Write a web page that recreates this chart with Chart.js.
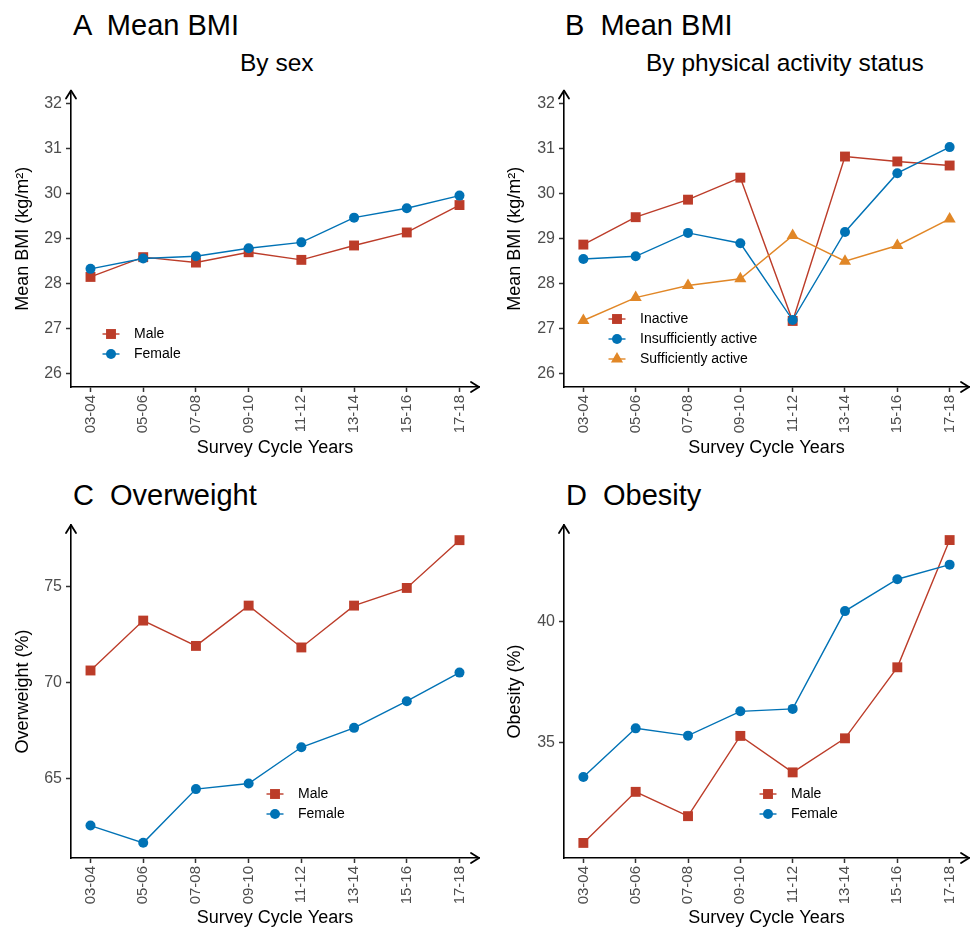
<!DOCTYPE html>
<html>
<head>
<meta charset="utf-8">
<script src="https://cdn.jsdelivr.net/npm/chart.js@4.4.1/dist/chart.umd.min.js"></script>
<style>
  body { margin: 0; width: 971px; height: 928px; overflow: hidden; background: #fff; position: relative;
         font-family: "Liberation Sans", Arial, Helvetica, sans-serif; }
  canvas { position: absolute; }
  .title { position: absolute; font-size: 29px; line-height: 1; white-space: pre; color: #000; }
  .sub { position: absolute; font-size: 24.5px; line-height: 1; white-space: pre; color: #000; }
</style>
</head>
<body>
<div class="title" style="left:73px;top:10.5px">A  Mean BMI</div>
<div class="sub" style="left:240px;top:51.3px">By sex</div>
<div class="title" style="left:565px;top:10.5px">B  Mean BMI</div>
<div class="sub" style="left:646px;top:51.3px">By physical activity status</div>
<div class="title" style="left:73px;top:480.5px">C  Overweight</div>
<div class="title" style="left:566px;top:480.5px">D  Obesity</div>

<canvas id="chartA" width="486" height="464" style="left:0;top:0"></canvas>
<canvas id="chartB" width="490" height="464" style="left:486px;top:0"></canvas>
<canvas id="chartC" width="486" height="470" style="left:0;top:464px"></canvas>
<canvas id="chartD" width="490" height="470" style="left:486px;top:464px"></canvas>

<script>
const cycles = ['03-04', '05-06', '07-08', '09-10', '11-12', '13-14', '15-16', '17-18'];

const bmiMale = [28.15, 28.59, 28.47, 28.70, 28.53, 28.85, 29.14, 29.75];
const bmiFemale = [28.33, 28.56, 28.61, 28.79, 28.92, 29.47, 29.68, 29.96];

const bmiInactive = [28.87, 29.48, 29.87, 30.36, 27.17, 30.83, 30.72, 30.63];
const bmiInsufficient = [28.55, 28.61, 29.13, 28.90, 27.19, 29.15, 30.46, 31.04];
const bmiSufficient = [27.18, 27.69, 27.96, 28.11, 29.07, 28.50, 28.85, 29.44];

const overweightMale = [70.61, 73.21, 71.89, 73.99, 71.81, 73.99, 74.91, 77.40];
const overweightFemale = [62.53, 61.63, 64.43, 64.72, 66.61, 67.62, 69.01, 70.50];

const obesityMale = [30.89, 32.99, 31.99, 35.29, 33.79, 35.19, 38.11, 43.34];
const obesityFemale = [33.60, 35.60, 35.30, 36.30, 36.40, 40.42, 41.73, 42.33];

const bmiTicks = [26, 27, 28, 29, 30, 31, 32];
const overweightTicks = [65, 70, 75];
const obesityTicks = [35, 40];

const RED = '#BC3C29';
const BLUE = '#0072B5';
const ORANGE = '#E18727';
const FONT = '"Liberation Sans", Arial, Helvetica, sans-serif';

Chart.defaults.font.family = FONT;

// open arrowheads at the ends of both axes
const axisArrows = {
    id: 'axisArrows',
    afterDraw(chart) {
        const {ctx, chartArea: a} = chart;
        ctx.save();
        ctx.strokeStyle = '#000';
        ctx.lineWidth = 1.8;
        ctx.lineCap = 'round';
        ctx.lineJoin = 'round';
        ctx.beginPath();
        ctx.moveTo(a.left - 5, a.top + 8);
        ctx.lineTo(a.left, a.top);
        ctx.lineTo(a.left + 5, a.top + 8);
        ctx.moveTo(a.right - 8, a.bottom - 5);
        ctx.lineTo(a.right, a.bottom);
        ctx.lineTo(a.right - 8, a.bottom + 5);
        ctx.stroke();
        ctx.restore();
    }
};

// legend drawn inside the plot area
const insideLegend = {
    id: 'insideLegend',
    afterDatasetsDraw(chart, args, opts) {
        const ctx = chart.ctx;
        chart.data.datasets.forEach((ds, i) => {
            const x = opts.x, y = opts.y + i * opts.gap;
            ctx.save();
            ctx.strokeStyle = ds.borderColor;
            ctx.lineWidth = ds.borderWidth;
            ctx.beginPath();
            ctx.moveTo(x - 8.5, y);
            ctx.lineTo(x + 8.5, y);
            ctx.stroke();
            ctx.fillStyle = ds.pointBackgroundColor;
            Chart.helpers.drawPoint(ctx, {pointStyle: ds.pointStyle, radius: ds.pointRadius, rotation: 0, borderWidth: 0}, x, y);
            ctx.fillStyle = '#000';
            ctx.font = '14px ' + FONT;
            ctx.textBaseline = 'middle';
            ctx.textAlign = 'left';
            ctx.fillText(ds.label, x + 23, y);
            ctx.restore();
        });
    }
};

function series(label, values, color, style, radius, order) {
    return {
        label: label,
        data: values.map((v, i) => ({x: i, y: v})),
        borderColor: color,
        backgroundColor: color,
        pointBackgroundColor: color,
        pointBorderWidth: 0,
        pointStyle: style,
        pointRadius: radius,
        pointHoverRadius: radius,
        borderWidth: 1.4,
        tension: 0,
        clip: false,
        order: order
    };
}

function makePanel(id, datasets, yTitle, yMin, yMax, yTicks, geo, legend) {
    const canvas = document.getElementById(id);
    const W = canvas.width, H = canvas.height;
    return new Chart(canvas, {
        type: 'line',
        data: {datasets: datasets},
        plugins: [axisArrows, insideLegend],
        options: {
            responsive: false,
            animation: false,
            events: [],
            layout: {padding: {left: 0, top: geo.top, right: W - geo.right, bottom: 0}},
            plugins: {
                legend: {display: false},
                tooltip: {enabled: false},
                insideLegend: legend
            },
            scales: {
                x: {
                    type: 'linear',
                    min: -0.37,
                    max: 7.37,
                    afterFit: (s) => { s.height = H - geo.bottom; },
                    afterBuildTicks: (s) => { s.ticks = cycles.map((c, i) => ({value: i})); },
                    ticks: {
                        autoSkip: false,
                        minRotation: 90,
                        maxRotation: 90,
                        padding: 3,
                        color: '#4D4D4D',
                        font: {size: 15},
                        callback: (v) => cycles[v]
                    },
                    grid: {drawOnChartArea: false, drawTicks: true, tickLength: 5, tickColor: '#333', tickWidth: 1.5},
                    border: {display: true, color: '#000', width: 1.6},
                    title: {display: true, text: 'Survey Cycle Years', color: '#000', font: {size: 18}, padding: {top: 0, bottom: 5}}
                },
                y: {
                    type: 'linear',
                    min: yMin,
                    max: yMax,
                    afterFit: (s) => { s.width = geo.left; },
                    afterBuildTicks: (s) => { s.ticks = yTicks.map((v) => ({value: v})); },
                    ticks: {padding: 4, color: '#4D4D4D', font: {size: 16}},
                    grid: {drawOnChartArea: false, drawTicks: true, tickLength: 5, tickColor: '#333', tickWidth: 1.5},
                    border: {display: true, color: '#000', width: 1.6},
                    title: {display: true, text: yTitle, color: '#000', font: {size: 18}, padding: {top: geo.ytitle, bottom: 0}}
                }
            }
        }
    });
}

makePanel('chartA', [
    series('Male', bmiMale, RED, 'rect', 7, 0),
    series('Female', bmiFemale, BLUE, 'circle', 5, -1)
], 'Mean BMI (kg/m²)', 25.7, 32.3, bmiTicks,
    {left: 71, top: 90.5, right: 482, bottom: 387, ytitle: 12},
    {x: 111, y: 334, gap: 20});

makePanel('chartB', [
    series('Inactive', bmiInactive, RED, 'rect', 7, 0),
    series('Insufficiently active', bmiInsufficient, BLUE, 'circle', 5, -1),
    series('Sufficiently active', bmiSufficient, ORANGE, 'triangle', 7, -2)
], 'Mean BMI (kg/m²)', 25.7, 32.3, bmiTicks,
    {left: 78, top: 90.5, right: 489, bottom: 387, ytitle: 18},
    {x: 131, y: 319, gap: 20});

makePanel('chartC', [
    series('Male', overweightMale, RED, 'rect', 7, 0),
    series('Female', overweightFemale, BLUE, 'circle', 5, -1)
], 'Overweight (%)', 60.84, 78.19, overweightTicks,
    {left: 71, top: 61, right: 482, bottom: 394, ytitle: 12},
    {x: 275, y: 330, gap: 20});

makePanel('chartD', [
    series('Male', obesityMale, RED, 'rect', 7, 0),
    series('Female', obesityFemale, BLUE, 'circle', 5, -1)
], 'Obesity (%)', 30.27, 43.96, obesityTicks,
    {left: 78, top: 61, right: 489, bottom: 394, ytitle: 18},
    {x: 282, y: 330, gap: 20});
</script>
</body>
</html>
